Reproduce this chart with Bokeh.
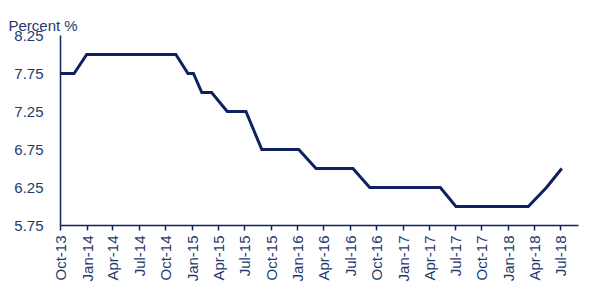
import pandas as pd
from bokeh.plotting import figure
from bokeh.models import Range1d, FixedTicker, DatetimeTickFormatter
from bokeh.embed import file_html
from bokeh.resources import INLINE

# Policy rate (percent), breakpoints
dates = ["2013-10-01", "2013-11-17", "2013-12-31", "2014-11-05", "2014-12-17",
         "2015-01-05", "2015-02-03", "2015-03-09", "2015-05-02", "2015-07-06",
         "2015-08-30", "2016-01-05", "2016-03-05", "2016-07-11", "2016-09-07",
         "2017-05-10", "2017-07-03", "2018-03-11", "2018-05-13", "2018-07-05"]
rate = [7.75, 7.75, 8.00, 8.00, 7.75,
        7.75, 7.50, 7.50, 7.25, 7.25,
        6.75, 6.75, 6.50, 6.50, 6.25,
        6.25, 6.00, 6.00, 6.25, 6.50]

x_ticks = ["2013-10-01", "2014-01-01", "2014-04-01", "2014-07-01", "2014-10-01",
           "2015-01-01", "2015-04-01", "2015-07-01", "2015-10-01", "2016-01-01",
           "2016-04-01", "2016-07-01", "2016-10-01", "2017-01-01", "2017-04-01",
           "2017-07-01", "2017-10-01", "2018-01-01", "2018-04-01", "2018-07-01"]
y_ticks = [5.75, 6.25, 6.75, 7.25, 7.75, 8.25]
x_start, x_end = "2013-10-01", "2018-09-01"
title_text = "Percent %"

TEXT = "#1f3a6e"
LINE = "#0f2160"
FONT = "Liberation Sans"

xd = pd.to_datetime(dates)
to_ms = lambda s: pd.Timestamp(s).value / 1e6

p = figure(width=600, height=300, x_axis_type="datetime",
           output_backend="svg", toolbar_location=None,
           x_range=Range1d(to_ms(x_start), to_ms(x_end)),
           y_range=Range1d(y_ticks[0], y_ticks[-1]),
           min_border_left=60, min_border_right=22,
           min_border_top=35, min_border_bottom=75)

p.line(xd, rate, line_color=LINE, line_width=3, line_join="miter")

p.outline_line_color = None
p.xgrid.grid_line_color = None
p.ygrid.grid_line_color = None
p.background_fill_color = "white"
p.border_fill_color = "white"

p.title.text = title_text
p.title.align = "left"
p.title.offset = -52
p.title.text_font = FONT
p.title.text_font_size = "15px"
p.title.text_font_style = "normal"
p.title.text_color = TEXT
p.title.standoff = 3

xa = p.xaxis[0]
xa.ticker = FixedTicker(ticks=[to_ms(t) for t in x_ticks])
fmt = "%b-%y"
xa.formatter = DatetimeTickFormatter(milliseconds=fmt, seconds=fmt, minsec=fmt,
                                     minutes=fmt, hourmin=fmt, hours=fmt, days=fmt,
                                     months=fmt, years=fmt)
xa.major_label_orientation = 3.14159265 / 2
xa.major_label_text_font = FONT
xa.major_label_text_font_size = "15px"
xa.major_label_text_color = TEXT
xa.major_label_standoff = 5
xa.major_tick_in = 0
xa.major_tick_out = 5
xa.major_tick_line_color = LINE
xa.major_tick_line_width = 1.5
xa.minor_tick_line_color = None
xa.axis_line_color = LINE
xa.axis_line_width = 1.5

ya = p.yaxis[0]
ya.ticker = FixedTicker(ticks=y_ticks)
ya.major_label_text_font = FONT
ya.major_label_text_font_size = "15px"
ya.major_label_text_color = TEXT
ya.major_label_standoff = 17
ya.major_tick_in = 0
ya.major_tick_out = 0
ya.minor_tick_line_color = None
ya.axis_line_color = LINE
ya.axis_line_width = 1.5

open("out.html", "w").write(file_html(p, INLINE))
